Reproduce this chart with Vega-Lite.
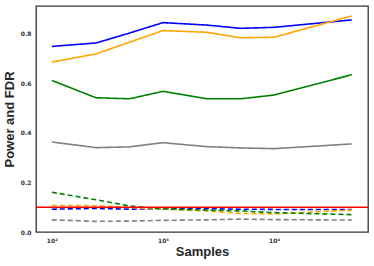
{
  "$schema": "https://vega.github.io/schema/vega-lite/v6.json",
  "width": 332,
  "height": 226,
  "autosize": {"type": "none"},
  "padding": {"left": 36, "top": 6, "right": 6, "bottom": 34},
  "background": "white",
  "config": {
    "view": {"stroke": "#333333", "strokeWidth": 1.3},
    "axis": {"grid": false, "domain": false, "ticks": false, "labelFont": "DejaVu Sans", "labelFontSize": 6, "labelColor": "#333333", "labelFontWeight": "bold", "titleFont": "Liberation Sans", "titleFontSize": 13, "titleFontWeight": "bold", "titleColor": "#262626"}
  },
  "datasets": {
    "lines": [
      {"samples": 100, "method": "A", "metric": "Power", "value": 0.748},
      {"samples": 250, "method": "A", "metric": "Power", "value": 0.762},
      {"samples": 500, "method": "A", "metric": "Power", "value": 0.802},
      {"samples": 1000, "method": "A", "metric": "Power", "value": 0.844},
      {"samples": 2500, "method": "A", "metric": "Power", "value": 0.834},
      {"samples": 5000, "method": "A", "metric": "Power", "value": 0.821},
      {"samples": 10000, "method": "A", "metric": "Power", "value": 0.825},
      {"samples": 50000, "method": "A", "metric": "Power", "value": 0.855},
      {"samples": 100, "method": "B", "metric": "Power", "value": 0.685},
      {"samples": 250, "method": "B", "metric": "Power", "value": 0.718},
      {"samples": 500, "method": "B", "metric": "Power", "value": 0.765},
      {"samples": 1000, "method": "B", "metric": "Power", "value": 0.812},
      {"samples": 2500, "method": "B", "metric": "Power", "value": 0.805},
      {"samples": 5000, "method": "B", "metric": "Power", "value": 0.783},
      {"samples": 10000, "method": "B", "metric": "Power", "value": 0.785},
      {"samples": 50000, "method": "B", "metric": "Power", "value": 0.871},
      {"samples": 100, "method": "C", "metric": "Power", "value": 0.611},
      {"samples": 250, "method": "C", "metric": "Power", "value": 0.541},
      {"samples": 500, "method": "C", "metric": "Power", "value": 0.537},
      {"samples": 1000, "method": "C", "metric": "Power", "value": 0.567},
      {"samples": 2500, "method": "C", "metric": "Power", "value": 0.537},
      {"samples": 5000, "method": "C", "metric": "Power", "value": 0.537},
      {"samples": 10000, "method": "C", "metric": "Power", "value": 0.552},
      {"samples": 50000, "method": "C", "metric": "Power", "value": 0.634},
      {"samples": 100, "method": "D", "metric": "Power", "value": 0.363},
      {"samples": 250, "method": "D", "metric": "Power", "value": 0.340},
      {"samples": 500, "method": "D", "metric": "Power", "value": 0.343},
      {"samples": 1000, "method": "D", "metric": "Power", "value": 0.360},
      {"samples": 2500, "method": "D", "metric": "Power", "value": 0.344},
      {"samples": 5000, "method": "D", "metric": "Power", "value": 0.339},
      {"samples": 10000, "method": "D", "metric": "Power", "value": 0.336},
      {"samples": 50000, "method": "D", "metric": "Power", "value": 0.355},
      {"samples": 100, "method": "A", "metric": "FDR", "value": 0.092},
      {"samples": 250, "method": "A", "metric": "FDR", "value": 0.095},
      {"samples": 500, "method": "A", "metric": "FDR", "value": 0.092},
      {"samples": 1000, "method": "A", "metric": "FDR", "value": 0.094},
      {"samples": 2500, "method": "A", "metric": "FDR", "value": 0.094},
      {"samples": 5000, "method": "A", "metric": "FDR", "value": 0.092},
      {"samples": 10000, "method": "A", "metric": "FDR", "value": 0.091},
      {"samples": 50000, "method": "A", "metric": "FDR", "value": 0.091},
      {"samples": 100, "method": "B", "metric": "FDR", "value": 0.107},
      {"samples": 250, "method": "B", "metric": "FDR", "value": 0.106},
      {"samples": 500, "method": "B", "metric": "FDR", "value": 0.099},
      {"samples": 1000, "method": "B", "metric": "FDR", "value": 0.092},
      {"samples": 2500, "method": "B", "metric": "FDR", "value": 0.085},
      {"samples": 5000, "method": "B", "metric": "FDR", "value": 0.075},
      {"samples": 10000, "method": "B", "metric": "FDR", "value": 0.073},
      {"samples": 50000, "method": "B", "metric": "FDR", "value": 0.088},
      {"samples": 100, "method": "C", "metric": "FDR", "value": 0.160},
      {"samples": 250, "method": "C", "metric": "FDR", "value": 0.130},
      {"samples": 500, "method": "C", "metric": "FDR", "value": 0.105},
      {"samples": 1000, "method": "C", "metric": "FDR", "value": 0.093},
      {"samples": 2500, "method": "C", "metric": "FDR", "value": 0.088},
      {"samples": 5000, "method": "C", "metric": "FDR", "value": 0.085},
      {"samples": 10000, "method": "C", "metric": "FDR", "value": 0.078},
      {"samples": 50000, "method": "C", "metric": "FDR", "value": 0.070},
      {"samples": 100, "method": "D", "metric": "FDR", "value": 0.049},
      {"samples": 250, "method": "D", "metric": "FDR", "value": 0.043},
      {"samples": 500, "method": "D", "metric": "FDR", "value": 0.044},
      {"samples": 1000, "method": "D", "metric": "FDR", "value": 0.047},
      {"samples": 2500, "method": "D", "metric": "FDR", "value": 0.049},
      {"samples": 5000, "method": "D", "metric": "FDR", "value": 0.052},
      {"samples": 10000, "method": "D", "metric": "FDR", "value": 0.050},
      {"samples": 50000, "method": "D", "metric": "FDR", "value": 0.048}
    ],
    "threshold": [{"level": 0.1}]
  },
  "layer": [
    {
      "data": {"name": "lines"},
      "mark": {"type": "line", "strokeWidth": 1.6, "clip": true},
      "encoding": {
        "x": {"field": "samples", "type": "quantitative", "scale": {"type": "log", "domain": [72, 70000], "nice": false},
              "axis": {"values": [100, 1000, 10000], "labelExpr": "datum.value == 100 ? '10²' : datum.value == 1000 ? '10³' : '10⁴'", "labelPadding": 5, "title": "Samples", "titlePadding": 2}},
        "y": {"field": "value", "type": "quantitative", "scale": {"domain": [0, 0.911], "nice": false, "zero": false},
              "axis": {"values": [0, 0.2, 0.4, 0.6, 0.8], "format": ".1f", "labelPadding": 5, "title": "Power and FDR", "titlePadding": 4}},
        "color": {"field": "method", "type": "nominal", "scale": {"domain": ["A", "B", "C", "D"], "range": ["#0000ff", "#ffa500", "#008000", "#808080"]}, "legend": null},
        "strokeDash": {"field": "metric", "type": "nominal", "scale": {"domain": ["Power", "FDR"], "range": [[1, 0], [5, 3]]}, "legend": null},
        "detail": {"field": "metric"}
      }
    },
    {
      "data": {"name": "threshold"},
      "mark": {"type": "rule", "color": "#ff0000", "strokeWidth": 1.5},
      "encoding": {"y": {"field": "level", "type": "quantitative"}}
    }
  ]
}
